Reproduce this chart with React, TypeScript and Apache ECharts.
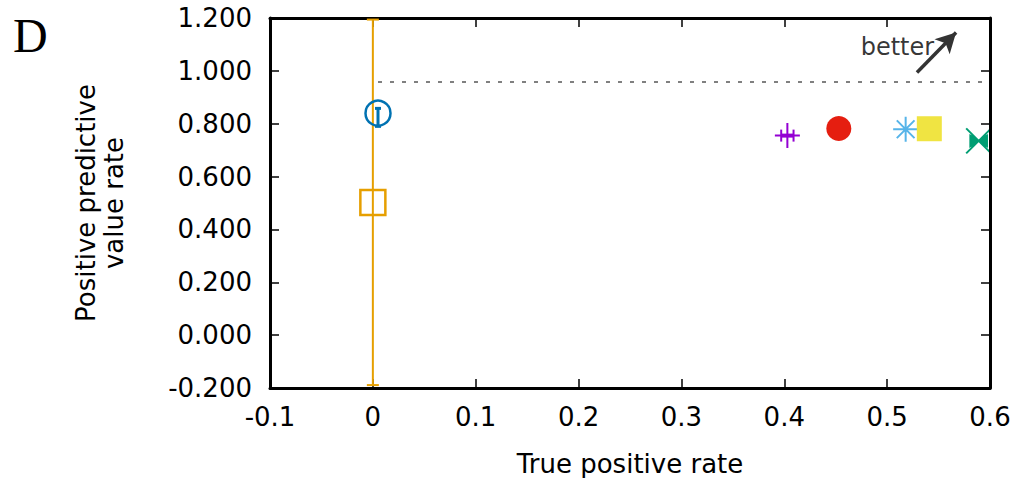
import React, { useEffect, useRef } from "react";
import * as echarts from "echarts";

// x: true positive rate, y: positive predictive value rate
const tpr = [0.005, 0.0, 0.403, 0.453, 0.518, 0.541, 0.589];
const ppv = [0.84, 0.502, 0.755, 0.782, 0.779, 0.781, 0.735];

// vertical error bars
const yErrPoint = [0, 1];
const yErrLow = [0.79, -0.189];
const yErrHigh = [0.858, 1.194];

// horizontal error bars
const xErrPoint = [2];
const xErrLow = [0.397];
const xErrHigh = [0.409];

// reference line (dotted) and "better" annotation
const refLineY = 0.957;
const refLineX = [0.005, 0.6];
const arrowFrom = [0.529, 0.994];
const arrowTo = [0.567, 1.145];
const betterLabelPos = [0.51, 1.092];

const xTicks = { min: -0.1, max: 0.6, interval: 0.1 };
const yTicks = { min: -0.2, max: 1.2, interval: 0.2 };

const pointColors = ["#0072B2", "#E69F00", "#9400D3", "#E51E10", "#56B4E9", "#F0E442", "#009E73"];

const markerStyles = [
  { symbol: "circle", size: 25, fill: "rgba(0,0,0,0)", stroke: 2.5 },
  { symbol: "rect", size: 25, fill: "rgba(0,0,0,0)", stroke: 2.5 },
  { symbol: "path://M0,12H24M12,0V24", size: 25, fill: "rgba(0,0,0,0)", stroke: 2 },
  { symbol: "circle", size: 25, fill: null, stroke: 0 },
  { symbol: "path://M0,12H24M12,0V24M3.5,3.5L20.5,20.5M20.5,3.5L3.5,20.5", size: 25, fill: "rgba(0,0,0,0)", stroke: 2 },
  { symbol: "rect", size: 25, fill: null, stroke: 0 },
  { symbol: "path://M0,0L24,24M24,0L0,24M4,7L12,12L4,17ZM20,7L12,12L20,17Z", size: 25, fill: null, stroke: 2 },
];

const errCaps = [3, 6, 6, 6, 6, 6, 6];
const errWidths = [3, 2, 2, 2, 2, 2, 2];

const FONT = "DejaVu Sans";
const FS = 26;

export default function App() {
  const ref = useRef<HTMLDivElement>(null);
  useEffect(() => {
    if (!ref.current) return;
    const chart = echarts.init(ref.current, null, { renderer: "svg" });

    const pointData = tpr.map((x, i) => {
      const m = markerStyles[i];
      const c = pointColors[i];
      return {
        value: [x, ppv[i]],
        symbol: m.symbol,
        symbolSize: m.size,
        itemStyle: {
          color: m.fill === null ? c : m.fill,
          borderColor: c,
          borderWidth: m.stroke,
          opacity: 1,
        },
      };
    });

    const vData = yErrPoint.map((p, i) => [tpr[p], yErrLow[i], yErrHigh[i], p]);
    const hData = xErrPoint.map((p, i) => [ppv[p], xErrLow[i], xErrHigh[i], p]);

    const xAxisCommon = {
      type: "value",
      min: xTicks.min,
      max: xTicks.max,
      interval: xTicks.interval,
      splitLine: { show: false },
      axisLine: { show: true, onZero: false, lineStyle: { color: "#000", width: 3 } },
      axisTick: { show: true, inside: true, length: 9, lineStyle: { color: "#000", width: 1.5 } },
    };
    const yAxisCommon = {
      type: "value",
      min: yTicks.min,
      max: yTicks.max,
      interval: yTicks.interval,
      splitLine: { show: false },
      axisLine: { show: true, onZero: false, lineStyle: { color: "#000", width: 3 } },
      axisTick: { show: true, inside: true, length: 9, lineStyle: { color: "#000", width: 1.5 } },
    };

    chart.setOption({
      animation: false,
      backgroundColor: "#fff",
      textStyle: { fontFamily: FONT },
      grid: { left: 270, right: 30, top: 18, bottom: 90, containLabel: false, outerBoundsMode: "none" },
      graphic: [
        {
          type: "text",
          left: 13,
          top: 11,
          style: { text: "D", font: "48px 'Liberation Serif'", fill: "#000" },
        },
      ],
      xAxis: [
        {
          ...xAxisCommon,
          position: "bottom",
          name: "True positive rate",
          nameLocation: "middle",
          nameGap: 63,
          nameTextStyle: { fontSize: FS, color: "#000", fontFamily: FONT },
          axisLabel: {
            fontSize: FS,
            color: "#000",
            margin: 16,
            fontFamily: FONT,
            formatter: (v: number) => {
              const r = Math.round(v * 10) / 10;
              return r === 0 ? "0" : r.toFixed(1);
            },
          },
        },
        {
          ...xAxisCommon,
          position: "top",
          axisLabel: { show: false },
        },
      ],
      yAxis: [
        {
          ...yAxisCommon,
          position: "left",
          name: "Positive predictive\nvalue rate",
          nameLocation: "middle",
          nameGap: 142,
          nameRotate: 90,
          nameTextStyle: { fontSize: FS, color: "#000", lineHeight: 28, fontFamily: FONT },
          axisLabel: {
            fontSize: FS,
            color: "#000",
            margin: 18,
            fontFamily: FONT,
            formatter: (v: number) => (Math.round(v * 1000) / 1000).toFixed(3),
          },
        },
        {
          ...yAxisCommon,
          position: "right",
          z: 10,
          axisLabel: { show: false },
        },
      ],
      series: [
        {
          type: "line",
          data: [],
          silent: true,
          markLine: {
            silent: true,
            symbol: ["none", "none"],
            label: { show: false },
            lineStyle: { color: "#808080", width: 2, type: [4, 8] },
            data: [[{ coord: [refLineX[0], refLineY] }, { coord: [refLineX[1], refLineY] }]],
          },
        },
        {
          type: "line",
          data: [],
          silent: true,
          markLine: {
            silent: true,
            symbol: ["none", "arrow"],
            symbolSize: [16, 20],
            label: { show: false },
            lineStyle: { color: "#333", width: 3.5, type: "solid" },
            data: [[{ coord: arrowFrom }, { coord: arrowTo }]],
          },
        },
        {
          type: "scatter",
          symbolSize: 0,
          silent: true,
          data: [betterLabelPos],
          label: {
            show: true,
            position: "inside",
            formatter: "better",
            fontSize: 24,
            color: "#000",
            fontFamily: FONT,
          },
        },
        {
          type: "custom",
          silent: true,
          z: 1,
          data: vData,
          renderItem: (params: any, api: any) => {
            const x = api.value(0);
            const idx = api.value(3);
            const p1 = api.coord([x, api.value(1)]);
            const p2 = api.coord([x, api.value(2)]);
            const c = pointColors[idx];
            const cap = errCaps[idx];
            const st = { stroke: c, lineWidth: errWidths[idx] };
            return {
              type: "group",
              children: [
                { type: "line", shape: { x1: p1[0], y1: p1[1], x2: p2[0], y2: p2[1] }, style: st },
                { type: "line", shape: { x1: p1[0] - cap, y1: p1[1], x2: p1[0] + cap, y2: p1[1] }, style: st },
                { type: "line", shape: { x1: p2[0] - cap, y1: p2[1], x2: p2[0] + cap, y2: p2[1] }, style: st },
              ],
            };
          },
        },
        {
          type: "custom",
          silent: true,
          z: 1,
          data: hData,
          renderItem: (params: any, api: any) => {
            const y = api.value(0);
            const idx = api.value(3);
            const p1 = api.coord([api.value(1), y]);
            const p2 = api.coord([api.value(2), y]);
            const c = pointColors[idx];
            const cap = errCaps[idx];
            const st = { stroke: c, lineWidth: 2 };
            return {
              type: "group",
              children: [
                { type: "line", shape: { x1: p1[0], y1: p1[1], x2: p2[0], y2: p2[1] }, style: { stroke: c, lineWidth: 4 } },
                { type: "line", shape: { x1: p1[0], y1: p1[1] - cap, x2: p1[0], y2: p1[1] + cap }, style: st },
                { type: "line", shape: { x1: p2[0], y1: p2[1] - cap, x2: p2[0], y2: p2[1] + cap }, style: st },
              ],
            };
          },
        },
        {
          type: "scatter",
          silent: true,
          z: 3,
          data: pointData,
        },
      ],
    });

    return () => chart.dispose();
  }, []);

  return (
    <div
      ref={ref}
      style={{ position: "fixed", left: 0, top: 0, width: 1020, height: 478, background: "#fff" }}
    />
  );
}
